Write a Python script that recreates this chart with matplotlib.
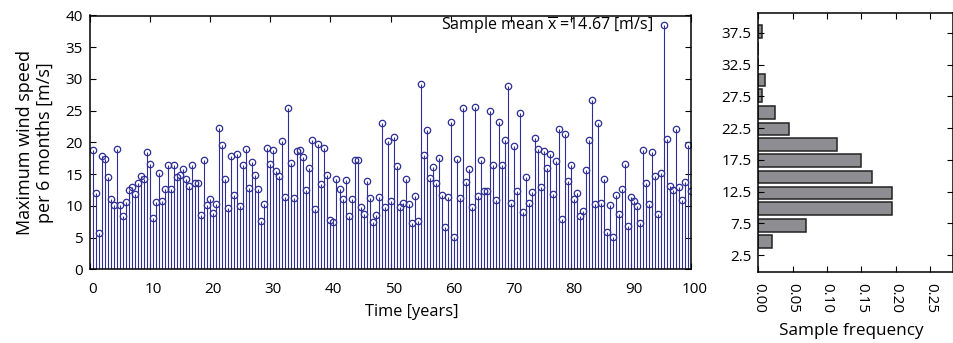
import matplotlib
matplotlib.use('Agg')
import matplotlib.pyplot as plt
import matplotlib.transforms as mtransforms
import numpy as np

plt.rcParams['font.family'] = ['Open Sans', 'DejaVu Sans']
plt.rcParams['mathtext.fontset'] = 'custom'
plt.rcParams['mathtext.rm'] = 'Open Sans'
plt.rcParams['mathtext.it'] = 'Open Sans:italic'

# ---------------- data ----------------
time_years = np.arange(1, 201) * 0.5

wind_speed = [
    18.77, 11.97, 5.68, 17.94, 17.47, 14.58, 11.02, 10.13, 19.04, 10.13,
    8.44, 10.55, 12.48, 12.91, 11.86, 13.54, 14.69, 14.21, 18.46, 16.57,
    8.03, 10.55, 15.11, 10.80, 12.64, 16.46, 12.69, 16.37, 14.58, 14.84,
    15.74, 14.17, 13.11, 16.42, 13.54, 13.63, 8.51, 17.20, 10.13, 11.02,
    8.92, 10.28, 22.34, 19.56, 14.32, 9.61, 17.88, 11.70, 18.25, 9.97,
    16.42, 18.93, 12.85, 16.89, 14.89, 12.59, 7.66, 10.28, 19.20, 16.62,
    18.77, 15.47, 14.69, 20.19, 11.34, 25.42, 16.78, 11.27, 18.62, 18.88,
    17.63, 12.48, 15.90, 20.46, 9.45, 19.83, 13.38, 19.20, 14.95, 7.77,
    7.45, 14.32, 12.59, 11.02, 14.06, 8.40, 11.02, 17.20, 17.20, 9.86,
    8.71, 13.95, 11.18, 7.50, 8.51, 11.43, 23.13, 9.76, 20.24, 10.75,
    20.86, 16.26, 9.76, 10.49, 14.32, 10.24, 7.25, 11.54, 7.61, 29.15,
    18.10, 21.97, 14.42, 16.10, 13.58, 17.52, 11.70, 6.71, 11.43, 23.22,
    5.14, 17.36, 11.27, 25.49, 13.74, 15.79, 9.81, 25.58, 11.49, 17.20,
    12.33, 12.33, 25.02, 16.37, 10.91, 23.29, 16.37, 20.46, 28.95, 10.39,
    19.51, 12.37, 24.64, 9.07, 14.58, 10.49, 12.17, 20.71, 19.04, 12.91,
    18.62, 15.94, 18.25, 11.81, 17.00, 22.18, 7.97, 21.34, 13.95, 16.42,
    11.12, 12.01, 8.35, 9.14, 15.63, 20.35, 26.64, 10.24, 23.13, 10.39,
    14.26, 5.88, 10.08, 5.09, 11.65, 8.71, 12.69, 16.57, 6.82, 11.34,
    10.71, 10.02, 7.34, 18.88, 13.69, 10.28, 18.51, 14.64, 8.71, 15.16,
    38.43, 20.61, 13.16, 12.48, 22.12, 13.00, 10.91, 13.79, 19.67, 12.37,
]

hist_centers = [4.7, 7.2, 9.8, 12.3, 14.8, 17.4, 19.9, 22.4, 25.0, 27.6, 30.1, 32.6, 35.1, 37.7]
hist_freq = [0.02, 0.07, 0.195, 0.195, 0.165, 0.15, 0.115, 0.045, 0.025, 0.005, 0.01, 0.0, 0.0, 0.005]

main_xticks = [0, 10, 20, 30, 40, 50, 60, 70, 80, 90, 100]
main_yticks = [0, 5, 10, 15, 20, 25, 30, 35, 40]
hist_yticks = [2.5, 7.5, 12.5, 17.5, 22.5, 27.5, 32.5, 37.5]
hist_xticks = [0.0, 0.05, 0.10, 0.15, 0.20, 0.25]

stem_color = '#2e2e96'

# ---------------- figure ----------------
W, H = 954, 343
fig = plt.figure(figsize=(W / 100, H / 100), dpi=100)

# main stem plot
ax = fig.add_axes([89.8 / W, 1 - 269.4 / H, (691.5 - 89.8) / W, (269.4 - 15.5) / H])
markerline, stemlines, baseline = ax.stem(time_years, wind_speed, basefmt=' ')
plt.setp(stemlines, color=stem_color, linewidth=0.8)
plt.setp(markerline, marker='o', markersize=4.6, markerfacecolor='none',
         markeredgecolor=stem_color, markeredgewidth=0.9)
ax.set_xlim(0, 100)
ax.set_ylim(0, 40)
ax.set_xticks(main_xticks)
ax.set_yticks(main_yticks)
ax.tick_params(direction='in', top=True, right=True, length=4, width=0.8,
               labelsize=11)
ax.tick_params(axis='x', pad=9)
ax.tick_params(axis='y', pad=5)
shift = mtransforms.ScaledTranslation(3 / 100, 0, fig.dpi_scale_trans)
for lab in ax.get_xticklabels():
    lab.set_transform(lab.get_transform() + shift)
for s in ax.spines.values():
    s.set_linewidth(1.1)
ax.set_xlabel('Time [years]', fontsize=11.8)
ax.xaxis.set_label_coords(0.535, -(311.7 - 269.4) / (269.4 - 15.5))
ax.xaxis.label.set_va('center')
ax.set_ylabel('Maximum wind speed\nper 6 months [m/s]', fontsize=13, labelpad=8,
              linespacing=1.2)
ax.text(93.6, 38.4, r'Sample mean $\overline{\mathrm{x}}$ =14.67 [m/s]',
        ha='right', va='center', fontsize=11.5)

# histogram
hx = fig.add_axes([758.3 / W, 1 - 271.7 / H, (953 - 758.3) / W, (271.7 - 13.3) / H])
hx.barh(hist_centers, hist_freq, height=2.0, color='#8e8e92',
        edgecolor='#222222', linewidth=1.1)
hx.set_xlim(0, 0.283)
hx.set_ylim(-0.1, 40.6)
hx.set_yticks(hist_yticks)
hx.set_yticklabels([f'{v:.1f}' for v in hist_yticks])
hx.set_xticks(hist_xticks)
hx.set_xticklabels([f'{v:.2f}' for v in hist_xticks], rotation=-90)
hx.tick_params(direction='in', top=True, right=True, length=4, width=0.8,
               labelsize=11, pad=5)
hx.tick_params(axis='x', pad=8)
for s in hx.spines.values():
    s.set_linewidth(1.1)
hx.set_xlabel('Sample frequency', fontsize=12.3)
hx.xaxis.set_label_coords(0.48, -(331 - 271.7) / (271.7 - 13.3))
hx.xaxis.label.set_va('center')

fig.savefig('out.png', dpi=100)
